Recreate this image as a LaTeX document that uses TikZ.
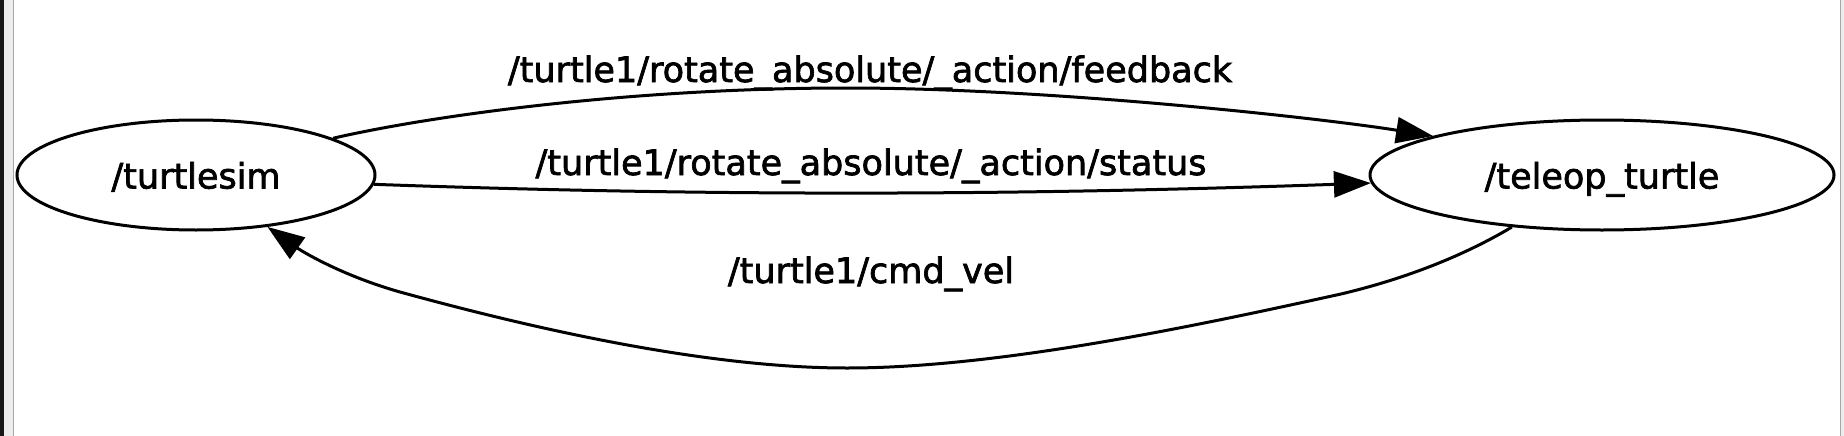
\documentclass[tikz,border=0pt]{standalone}
\usepackage{fontspec}
\setmainfont{DejaVu Sans}[FakeBold=2]
\usetikzlibrary{shapes.geometric,arrows.meta}
\begin{document}
\begin{tikzpicture}[x=1pt,y=-1pt,
    rosnode/.style={ellipse,draw,line width=3pt,inner sep=0pt,
      text height=33pt,text depth=6pt,font=\fontsize{35}{42}\selectfont},
    topic/.style={line width=3pt,-{Triangle[length=37pt,width=26pt]}},
    topiclabel/.style={inner sep=0pt,anchor=base,font=\fontsize{35}{42}\selectfont}]
      \useasboundingbox (0,0) rectangle (1844,436);
      % window frame
      \fill[black!90] (0,0) rectangle (4,436);
      \fill[black!7] (4,0) rectangle (13,436);
      \draw[black!35,line width=1.5pt] (13.5,0) -- (13.5,436);
      \draw[black!35,line width=1.5pt] (1840.5,0) -- (1840.5,436);
      \fill[black!7] (1841.25,0) rectangle (1844,436);
      % nodes
      \node[rosnode,minimum width=358pt,minimum height=110pt] (turtlesim) at (196,175) {/turtlesim};
      \node[rosnode,minimum width=464pt,minimum height=110pt] (teleop) at (1602,175) {/teleop\_turtle};
      % topics
      \draw[topic] (turtlesim.15) .. controls (420,118) and (620,88) .. (847,88)
        .. controls (1050,88) and (1320,118) .. (teleop.167);
      \node[topiclabel] (feedback) at (870,82) {/turtle1/rotate\_absolute/\_action/feedback};
      \draw[topic] (turtlesim.-3.5) .. controls (700,196) and (1000,196) .. (teleop.182.2);
      \node[topiclabel] (status) at (871,175) {/turtle1/rotate\_absolute/\_action/status};
      \draw[topic] (teleop.210) .. controls (1460,258) and (1400,280) .. (1341,294)
        .. controls (1200,325) and (1000,368) .. (847,368)
        .. controls (700,368) and (520,325) .. (400,292)
        .. controls (340,275) and (300,250) .. (turtlesim.-36);
      \node[topiclabel] (cmdvel) at (871,283) {/turtle1/cmd\_vel};
\end{tikzpicture}
\end{document}
